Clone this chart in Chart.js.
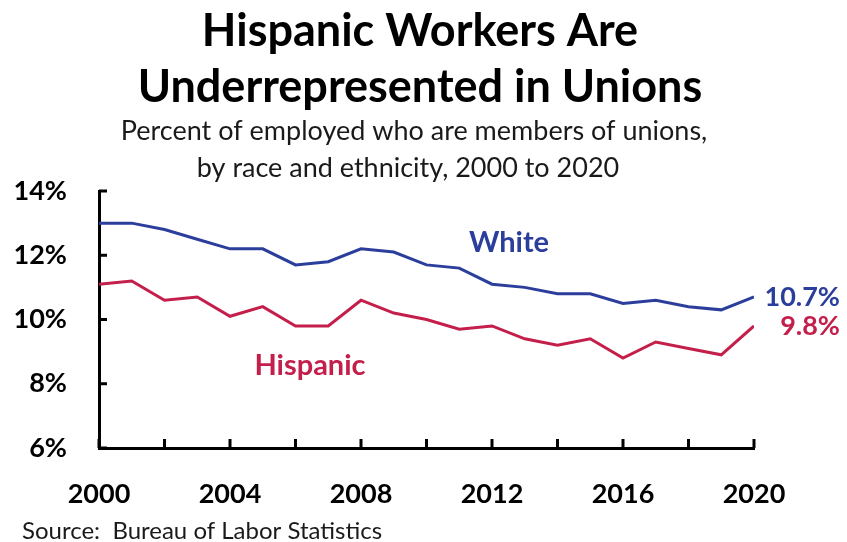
<!DOCTYPE html>
<html>
<head>
<meta charset="utf-8">
<script src="https://cdn.jsdelivr.net/npm/chart.js@4/dist/chart.umd.min.js"></script>
<style>
  html, body { margin: 0; padding: 0; background: #fff; }
  #wrap { width: 847px; height: 542px; position: relative; }
</style>
</head>
<body>
<div id="wrap"><canvas id="unionChart"></canvas></div>
<script>
"use strict";

// Union membership rate, percent of employed (BLS), 2000-2020
const YEARS = [
  2000, 2001, 2002, 2003, 2004, 2005, 2006, 2007, 2008, 2009, 2010,
  2011, 2012, 2013, 2014, 2015, 2016, 2017, 2018, 2019, 2020,
];
const WHITE = [
  13.0, 13.0, 12.8, 12.5, 12.2, 12.2, 11.7, 11.8, 12.2, 12.1, 11.7,
  11.6, 11.1, 11.0, 10.8, 10.8, 10.5, 10.6, 10.4, 10.3, 10.7,
];
const HISPANIC = [
  11.1, 11.2, 10.6, 10.7, 10.1, 10.4, 9.8, 9.8, 10.6, 10.2, 10.0,
  9.7, 9.8, 9.4, 9.2, 9.4, 8.8, 9.3, 9.1, 8.9, 9.8,
];
const Y_TICKS = [6, 8, 10, 12, 14];
const X_LABEL_YEARS = [2000, 2004, 2008, 2012, 2016, 2020];
const X_MARK_YEARS = [2000, 2002, 2004, 2006, 2008, 2010, 2012, 2014, 2016, 2018, 2020];

const TITLE_LINES = ["Hispanic Workers Are", "Underrepresented in Unions"];
const SUBTITLE_LINES = [
  "Percent of employed who are members of unions,",
  "by race and ethnicity, 2000 to 2020",
];
const SOURCE_TEXT = "Source:  Bureau of Labor Statistics";

const COLORS = {
  white:    "#2c3e9c",
  hispanic: "#c41f4b",
  axis:     "#000000",
  text:     "#1a1a1a",
};
const FONT = "Lato, 'Open Sans', sans-serif";

const toPoints = (vals) => vals.map((v, i) => ({ x: YEARS[i], y: v }));

// inward tick marks along both axes
const tickMarks = {
  id: "tickMarks",
  afterDraw(chart) {
    const { ctx, chartArea, scales } = chart;
    ctx.save();
    ctx.strokeStyle = COLORS.axis;
    ctx.lineWidth = 3;
    ctx.beginPath();
    Y_TICKS.forEach((v) => {
      const y = scales.y.getPixelForValue(v);
      ctx.moveTo(chartArea.left, y);
      ctx.lineTo(chartArea.left + 8, y);
    });
    X_MARK_YEARS.forEach((yr) => {
      const x = scales.x.getPixelForValue(yr);
      ctx.moveTo(x, chartArea.bottom);
      ctx.lineTo(x, chartArea.bottom - 9);
    });
    ctx.stroke();
    ctx.restore();
  },
};

// title block, series names, end values and source line
const annotations = {
  id: "annotations",
  afterDraw(chart) {
    const { ctx, scales } = chart;
    const cx = 420;
    ctx.save();
    ctx.textAlign = "center";
    ctx.textBaseline = "alphabetic";

    ctx.fillStyle = "#000";
    ctx.font = `bold 45px ${FONT}`;
    ctx.fillText(TITLE_LINES[0], cx, 46);
    ctx.fillText(TITLE_LINES[1], cx, 102);

    ctx.fillStyle = COLORS.text;
    ctx.font = `27px ${FONT}`;
    ctx.fillText(SUBTITLE_LINES[0], 414, 140);
    ctx.fillText(SUBTITLE_LINES[1], 408, 177);

    ctx.textBaseline = "middle";
    ctx.font = `bold 29px ${FONT}`;
    ctx.fillStyle = COLORS.white;
    ctx.fillText("White", 509, 243);
    ctx.fillStyle = COLORS.hispanic;
    ctx.fillText("Hispanic", 310, 366);

    // end-of-series value labels
    const last = YEARS.length - 1;
    ctx.font = `bold 27px ${FONT}`;
    ctx.textAlign = "right";
    ctx.fillStyle = COLORS.white;
    ctx.fillText(WHITE[last].toFixed(1) + "%", 840, scales.y.getPixelForValue(WHITE[last]));
    ctx.fillStyle = COLORS.hispanic;
    ctx.fillText(HISPANIC[last].toFixed(1) + "%", 840, scales.y.getPixelForValue(HISPANIC[last]));

    ctx.textAlign = "left";
    ctx.fillStyle = COLORS.text;
    ctx.font = `24px ${FONT}`;
    ctx.fillText(SOURCE_TEXT, 22, 531);
    ctx.restore();
  },
};

new Chart(document.getElementById("unionChart"), {
  type: "line",
  data: {
    datasets: [
      {
        label: "White",
        data: toPoints(WHITE),
        borderColor: COLORS.white,
        borderWidth: 3,
        pointRadius: 0,
        tension: 0,
      },
      {
        label: "Hispanic",
        data: toPoints(HISPANIC),
        borderColor: COLORS.hispanic,
        borderWidth: 3,
        pointRadius: 0,
        tension: 0,
      },
    ],
  },
  options: {
    responsive: true,
    maintainAspectRatio: false,
    animation: false,
    layout: { padding: { top: 191, right: 93, bottom: 0, left: 0 } },
    plugins: {
      legend: { display: false },
      tooltip: { enabled: false },
    },
    scales: {
      x: {
        type: "linear",
        min: 2000,
        max: 2020,
        afterFit: (s) => { s.height = 94; },
        afterBuildTicks: (s) => { s.ticks = X_LABEL_YEARS.map((v) => ({ value: v })); },
        grid: { display: false },
        border: { color: COLORS.axis, width: 3 },
        ticks: {
          color: "#000",
          padding: 22,
          maxRotation: 0,
          font: { family: FONT, size: 27, weight: "bold" },
          callback: (v) => String(v),
        },
      },
      y: {
        min: 6,
        max: 14,
        afterFit: (s) => { s.width = 99; },
        afterBuildTicks: (s) => { s.ticks = Y_TICKS.map((v) => ({ value: v })); },
        grid: { display: false },
        border: { color: COLORS.axis, width: 3 },
        ticks: {
          color: "#000",
          padding: 24,
          font: { family: FONT, size: 27, weight: "bold" },
          callback: (v) => v + "%",
        },
      },
    },
  },
  plugins: [tickMarks, annotations],
});
</script>
</body>
</html>
